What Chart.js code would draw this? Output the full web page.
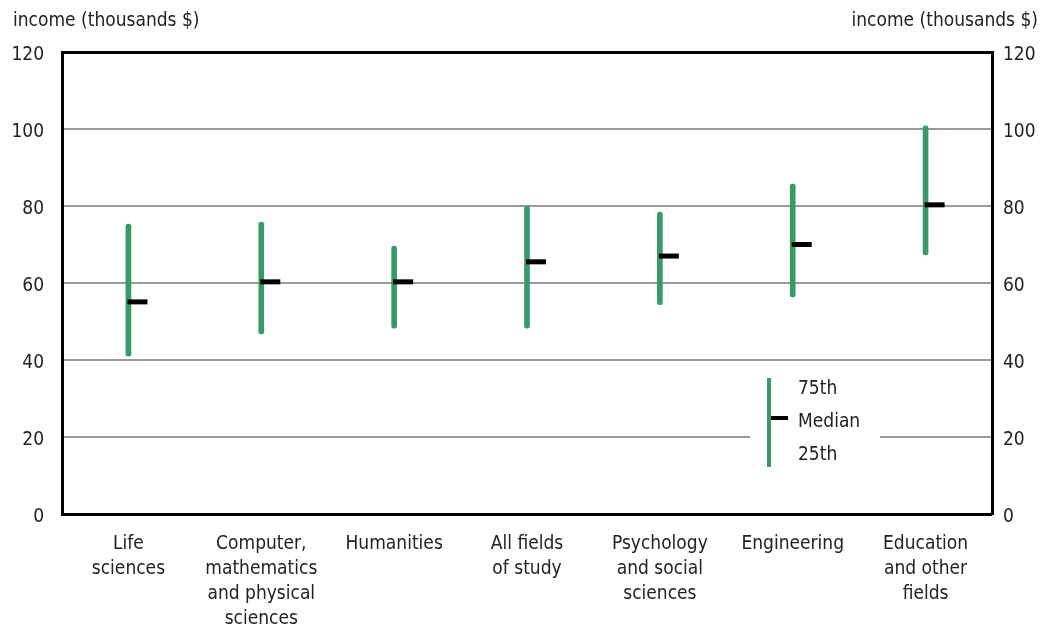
<!DOCTYPE html>
<html>
<head>
<meta charset="utf-8">
<script src="https://cdn.jsdelivr.net/npm/chart.js@4"></script>
<style>
html,body{margin:0;padding:0;background:#fff;}
#wrap{width:1054px;height:628px;position:relative;}
</style>
</head>
<body>
<div id="wrap"><canvas id="c" width="1054" height="628"></canvas></div>
<script>
const categories = [
  ["Life","sciences"],
  ["Computer,","mathematics","and physical","sciences"],
  ["Humanities"],
  ["All fields","of study"],
  ["Psychology","and social","sciences"],
  ["Engineering"],
  ["Education","and other","fields"]
];
const p25 = [41.0, 46.8, 48.3, 48.3, 54.4, 56.4, 67.3];
const median = [55.1, 60.3, 60.3, 65.5, 67, 70, 80.3];
const p75 = [75.3, 75.8, 69.6, 80.0, 78.4, 85.7, 100.8];
const yTicks = [0, 20, 40, 60, 80, 100, 120];
const axisTitle = "income (thousands $)";
const legendLabels = ["75th", "Median", "25th"];

const FONT = "'Liberation Sans Narrow','DejaVu Sans Condensed','Roboto',sans-serif";
const GREEN = "#359b68";
const TEXT = "#222";
const FS = 19;

const overlay = {
  id: 'overlay',
  afterDatasetsDraw(chart) {
    const ctx = chart.ctx;
    const x = chart.scales.x, y = chart.scales.y;
    ctx.save();
    // medians
    ctx.fillStyle = '#000';
    median.forEach((m, i) => {
      const px = x.getPixelForValue(i);
      const py = y.getPixelForValue(m);
      ctx.fillRect(px - 1, py - 2.5, 20, 5);
    });
    // legend box
    const lx = 750, ly = 372;
    ctx.fillStyle = '#fff';
    ctx.fillRect(lx, ly, 130, 100);
    ctx.strokeStyle = GREEN;
    ctx.lineWidth = 4;
    ctx.beginPath();
    ctx.moveTo(769, 378);
    ctx.lineTo(769, 467);
    ctx.stroke();
    ctx.fillStyle = '#000';
    ctx.fillRect(771, 416, 17, 4);
    ctx.fillStyle = TEXT;
    ctx.font = FS + "px " + FONT;
    ctx.textAlign = 'left';
    ctx.textBaseline = 'middle';
    ctx.fillText(legendLabels[0], 798, 389);
    ctx.fillText(legendLabels[1], 798, 422);
    ctx.fillText(legendLabels[2], 798, 455);
    // axis titles
    ctx.textAlign = 'left';
    ctx.fillText(axisTitle, 13, 21);
    ctx.textAlign = 'right';
    ctx.fillText(axisTitle, 1038, 21);
    ctx.restore();
  }
};

const gridColor = (c) => (c.tick && (c.tick.value === 0 || c.tick.value === 120)) ? '#000' : '#999';
const gridWidth = (c) => (c.tick && (c.tick.value === 0 || c.tick.value === 120)) ? 3 : 2;

new Chart(document.getElementById('c'), {
  type: 'bar',
  data: {
    labels: categories,
    datasets: [{
      data: p25.map((v, i) => [v, p75[i]]),
      backgroundColor: GREEN,
      barThickness: 5,
      borderRadius: 2.5,
      borderSkipped: false,
      yAxisID: 'y'
    }]
  },
  options: {
    responsive: false,
    animation: false,
    devicePixelRatio: 1,
    layout: { padding: { top: 52, bottom: 0, left: 0, right: 0 } },
    plugins: { legend: { display: false }, tooltip: { enabled: false } },
    scales: {
      x: {
        grid: { display: false },
        border: { display: false },
        ticks: { color: TEXT, font: { family: FONT, size: FS, lineHeight: 1.33 }, padding: 9, maxRotation: 0, autoSkip: false },
        afterFit: (s) => { s.height = 114; }
      },
      y: {
        position: 'left',
        min: 0, max: 120,
        afterBuildTicks: (s) => { s.ticks = yTicks.map(v => ({ value: v })); },
        grid: { color: gridColor, lineWidth: gridWidth, drawTicks: false },
        border: { display: true, color: '#000', width: 3 },
        ticks: { color: TEXT, font: { family: FONT, size: FS }, padding: 18, labelOffset: 3 },
        afterFit: (s) => { s.width = 62; }
      },
      y2: {
        position: 'right',
        min: 0, max: 120,
        afterBuildTicks: (s) => { s.ticks = yTicks.map(v => ({ value: v })); },
        grid: { display: false, drawTicks: false },
        border: { display: true, color: '#000', width: 3 },
        ticks: { color: TEXT, font: { family: FONT, size: FS }, padding: 11, labelOffset: 3 },
        afterFit: (s) => { s.width = 62; }
      }
    }
  },
  plugins: [overlay]
});
</script>
</body>
</html>
